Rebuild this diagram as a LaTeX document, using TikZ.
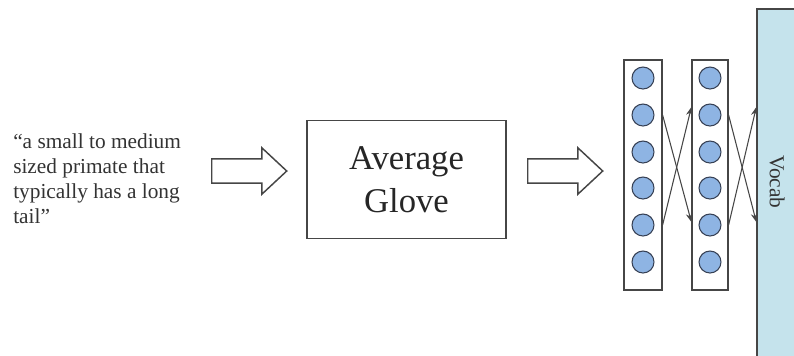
\documentclass[tikz,border=0pt]{standalone}
\usepackage{fontspec}
\setmainfont{Liberation Serif}
\usetikzlibrary{shapes.arrows,calc,arrows.meta}
\definecolor{unitblue}{RGB}{142,180,227}
\definecolor{unitedge}{RGB}{55,65,85}
\definecolor{vocabblue}{RGB}{197,227,236}
\definecolor{edgegray}{RGB}{70,70,70}

\begin{document}
\begin{tikzpicture}[
        x=0.75pt, y=-0.75pt,
        box/.style={rectangle, draw=edgegray, line width=1.2pt, minimum width=149.25pt, minimum height=88.5pt, align=center},
        layer/.style={rectangle, draw=edgegray, line width=0.9pt, minimum height=172.5pt},
        unit/.style={circle, draw=unitedge, fill=unitblue, minimum size=16.5pt, inner sep=0pt, line width=0.8pt},
        hollow/.style={single arrow, draw=edgegray, fill=white, line width=1.1pt, inner xsep=0pt, inner ysep=8.6pt, minimum height=56.25pt, single arrow head extend=8.25pt, single arrow tip angle=86},
        arrow/.style={-{Stealth[length=6.5pt, width=5pt]}, line width=0.8pt, edgegray}
    ]
    \useasboundingbox (0,0) rectangle (794,355);

    \node[rectangle, draw=edgegray, fill=vocabblue, line width=1pt, minimum width=32.25pt, minimum height=263.25pt] (vocab) at (778.5,184.5) {};
    \node[rotate=-90, font=\fontsize{16}{19}\selectfont, text=black!80] (vocabtext) at (777,182) {Vocab};

    \node[anchor=north west, align=left, inner sep=0pt, text=black!80, font=\fontsize{16}{18.75}\selectfont] (desc) at (13,133) {“a small to medium\\sized primate that\\typically has a long\\tail”};
    \node[hollow, anchor=tail] (in) at (211,171) {};
    \node[box, font=\fontsize{26}{32}\selectfont, text=black!85] (avg) at (406.5,179.5) {Average\\Glove};
    \node[hollow, anchor=tail] (out) at (527,171) {};

    \node[layer, minimum width=28.5pt] (l1) at (643,175) {};
    \node[layer, minimum width=27pt] (l2) at (710,175) {};

    \node[unit] (u11) at (643,78) {};
    \node[unit] (u12) at (643,115) {};
    \node[unit] (u13) at (643,152) {};
    \node[unit] (u14) at (643,188) {};
    \node[unit] (u15) at (643,225) {};
    \node[unit] (u16) at (643,262) {};

    \node[unit] (u21) at (710,78) {};
    \node[unit] (u22) at (710,115) {};
    \node[unit] (u23) at (710,152) {};
    \node[unit] (u24) at (710,188) {};
    \node[unit] (u25) at (710,225) {};
    \node[unit] (u26) at (710,262) {};

    % hidden to hidden
    \draw[arrow] (u12 -| l1.east) -- ($(u25 -| l2.west)+(0,-3)$);
    \draw[arrow] (u15 -| l1.east) -- ($(u22 -| l2.west)+(0,-8)$);
    % hidden to vocab
    \draw[arrow] (u22 -| l2.east) -- ($(u25 -| vocab.west)+(0,-3)$);
    \draw[arrow] (u25 -| l2.east) -- ($(u22 -| vocab.west)+(0,-8)$);
\end{tikzpicture}
\end{document}
